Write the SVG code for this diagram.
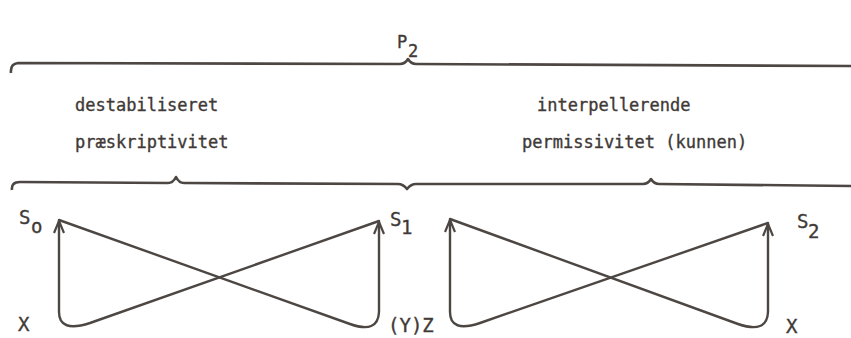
<svg xmlns="http://www.w3.org/2000/svg" width="851" height="338" viewBox="0 0 851 338">
<defs>
<style>
.t{font-family:"DejaVu Sans Mono","Liberation Mono",monospace;font-size:17px;fill:#3f3a37;stroke:#3f3a37;stroke-width:0.35}
.s{font-family:"DejaVu Sans Mono","Liberation Mono",monospace;font-size:19px;fill:#3f3a37;stroke:#3f3a37;stroke-width:0.35}
.l{fill:none;stroke:#4d4744;stroke-width:2.4;stroke-linejoin:round;stroke-linecap:round}
.b{fill:none;stroke:#4d4744;stroke-width:2.6;stroke-linejoin:round}
</style>
<marker id="ah" viewBox="0 0 14 12" refX="13" refY="6" markerWidth="14" markerHeight="12" markerUnits="userSpaceOnUse" orient="auto">
<path d="M1,1 L13,6 L1,11" fill="none" stroke="#4d4744" stroke-width="2.2" stroke-linejoin="round"/>
</marker>
</defs>
<rect width="851" height="338" fill="#ffffff"/>
<g id="top-brace">
<text class="t" x="397" y="48">P</text>
<text class="t" x="408" y="57">2</text>
<path class="b" d="M11,73 Q10,64 18,63 L400,64 Q405,64 408,59 Q411,64 416,64 L851,66"/>
</g>
<g id="left-brace">
<text class="t" x="75" y="111">destabiliseret</text>
<text class="t" x="75" y="148">præskriptivitet</text>
</g>
<g id="right-brace">
<text class="t" x="537" y="111">interpellerende</text>
<text class="t" x="522" y="148">permissivitet (kunnen)</text>
</g>
<g id="brace2">
<path class="b" d="M12,190 Q11,182 20,182 L168,183 Q173,183 176,177 Q179,183 184,183 L398,184 Q403,184 407,189 Q411,184 416,184 L643,184 Q648,184 651,179 Q654,184 659,184 L851,186"/>
</g>
<g id="s0">
<text class="s" x="19" y="224">S</text>
<text class="s" x="31" y="233">o</text>
</g>
<g id="s1">
<text class="s" x="390" y="226">S</text>
<text class="s" x="401" y="234">1</text>
</g>
<g id="s2">
<text class="s" x="797" y="228">S</text>
<text class="s" x="808" y="238">2</text>
</g>
<g id="x1"><text class="s" x="18" y="331">X</text></g>
<g id="yz"><text class="s" x="388" y="332">(Y)Z</text></g>
<g id="x2"><text class="s" x="786" y="333">X</text></g>
<g id="connectors">
<path class="l" d="M59,220 L350,324 Q378,334 379,312 L379,222" marker-end="url(#ah)"/>
<path class="l" d="M379,221 L90,323 Q59,333 59,312 L59,221" marker-end="url(#ah)"/>
<path class="l" d="M450,219 L738,324 Q767,334 768,312 L768,224" marker-end="url(#ah)"/>
<path class="l" d="M768,223 L480,323 Q450,333 450,312 L450,220" marker-end="url(#ah)"/>
</g>
</svg>
